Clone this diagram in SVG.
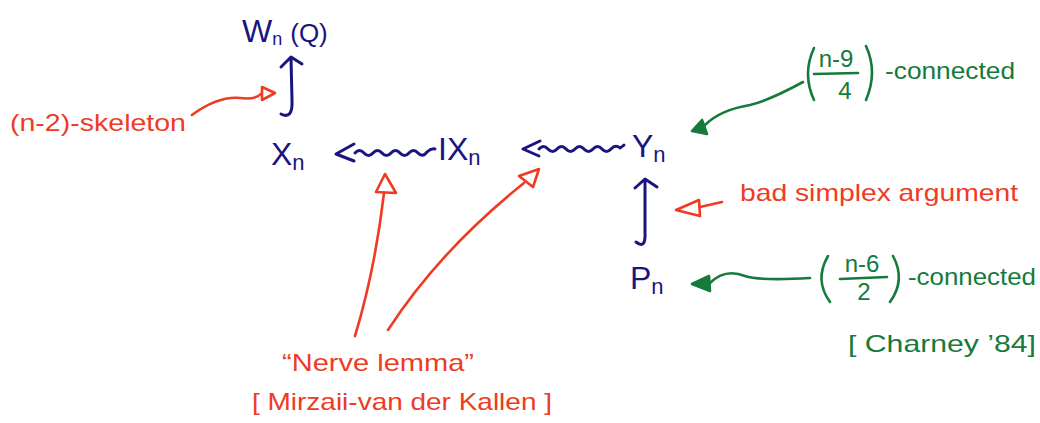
<svg xmlns="http://www.w3.org/2000/svg" width="1040" height="423" viewBox="0 0 1040 423">
<style>
.blue{fill:#1b1480;font-family:"Liberation Sans",sans-serif;font-size:32px}
.red{fill:#ee3b24;font-family:"Liberation Sans",sans-serif;font-size:24px}
.green{fill:#157a3c;font-family:"Liberation Sans",sans-serif;font-size:24px}
.sb{stroke:#1b1480;stroke-width:3;fill:none;stroke-linecap:round;stroke-linejoin:round}
.sr{stroke:#ee3b24;stroke-width:2.6;fill:none;stroke-linecap:round;stroke-linejoin:round}
.sg{stroke:#157a3c;stroke-width:2.6;fill:none;stroke-linecap:round;stroke-linejoin:round}
.hr{stroke:#ee3b24;stroke-width:2.6;fill:#fff;stroke-linejoin:round}
.hg{stroke:#157a3c;stroke-width:2.6;fill:#157a3c;stroke-linejoin:round}
</style>
<rect width="1040" height="423" fill="#fff"/>
<g id="Wn"><text class="blue" x="242" y="42">W<tspan font-size="18" dy="3">n</tspan><tspan dy="-3" dx="8" font-size="26">(Q)</tspan></text></g>
<g id="Xn"><text class="blue" x="271" y="165">X<tspan font-size="22" dy="5">n</tspan></text></g>
<g id="IXn"><text class="blue" x="438" y="160">IX<tspan font-size="22" dy="5">n</tspan></text></g>
<g id="Yn"><text class="blue" x="632" y="157">Y<tspan font-size="22" dy="5">n</tspan></text></g>
<g id="Pn"><text class="blue" x="630" y="289">P<tspan font-size="22" dy="5">n</tspan></text></g>
<g id="skeleton"><text class="red" x="10" y="131" font-size="26" textLength="176" lengthAdjust="spacingAndGlyphs">(n-2)-skeleton</text></g>
<g id="badsimplex"><text class="red" x="740" y="201" font-size="26" textLength="278" lengthAdjust="spacingAndGlyphs">bad simplex argument</text></g>
<g id="nerve"><text class="red" x="282" y="371" font-size="26" textLength="192" lengthAdjust="spacingAndGlyphs">“Nerve lemma”</text>
<text class="red" x="252" y="410" font-size="24" textLength="300" lengthAdjust="spacingAndGlyphs">[ Mirzaii-van der Kallen ]</text></g>
<g id="conn9">
<path class="sg" d="M814,48 Q802,74 814,100 M866,46 Q878,72 866,100 M814,74 L858,73"/>
<text class="green" x="836" y="67" text-anchor="middle" font-size="18">n-9</text>
<text class="green" x="845" y="99" text-anchor="middle" font-size="22">4</text>
<text class="green" x="885" y="79" textLength="130" lengthAdjust="spacingAndGlyphs">-connected</text>
</g>
<g id="conn6">
<path class="sg" d="M828,256 Q814,280 830,302 M893,256 Q906,280 890,302 M840,279 L887,277"/>
<text class="green" x="862" y="272" text-anchor="middle" font-size="18">n-6</text>
<text class="green" x="864" y="300" text-anchor="middle" font-size="22">2</text>
<text class="green" x="908" y="285" textLength="128" lengthAdjust="spacingAndGlyphs">-connected</text>
<text class="green" x="848" y="352" font-size="28" textLength="188" lengthAdjust="spacingAndGlyphs">[ Charney ’84]</text>
</g>
<g id="connectors">
<path class="sb" d="M281,114 Q293,120 292,100 L291,58 M281,67 L291,57 L302,64"/>
<path class="sb" d="M636,242 Q646,250 645,232 L645,180 M635,188 L645,179 L657,187"/>
<path class="sb" d="M354,144 L336,154 L354,161 M355,153 q4.5,-5 9,0 q4.5,5 9,0 q4.5,-5 9,0 q4.5,5 9,0 q4.5,-5 9,0 q4.5,5 9,0 q4.5,-5 9,0 q4.5,5 9,-1 q4,-4 8,-3"/>
<path class="sb" d="M540,141 L523,149 L539,156 M539,149 q4.5,-5 9,0 q4.5,5 9,0 q4.5,-5 9,0 q4.5,5 9,0 q4.5,-5 9,0 q4.5,5 9,0 q4.5,-5 9,0 q4.5,5 9,0 q4.5,-5 9,-1 q3,-2 4,-3"/>
<path class="sr" d="M192,115 Q218,96 240,98 Q256,100 262,93"/>
<path class="hr" d="M262,87 L275,93 L262,100 Z"/>
<path class="sr" d="M722,202 L700,207"/>
<path class="hr" d="M676,210 L699,200 L700,216 Z"/>
<path class="sr" d="M355,336 Q375,270 384,193"/>
<path class="hr" d="M385,174 L396,193 L376,192 Z"/>
<path class="sr" d="M388,330 Q440,250 524,183"/>
<path class="hr" d="M539,169 L533,187 L519,176 Z"/>
<path class="sg" d="M803,82 Q770,100 750,105 Q720,110 705,125"/>
<path class="hg" d="M692,131 L702,120 L707,134 Z"/>
<path class="sg" d="M810,278 Q760,281 745,276 Q725,268 710,283"/>
<path class="hg" d="M692,284 L709,276 L710,291 Z"/>
</g>
</svg>
